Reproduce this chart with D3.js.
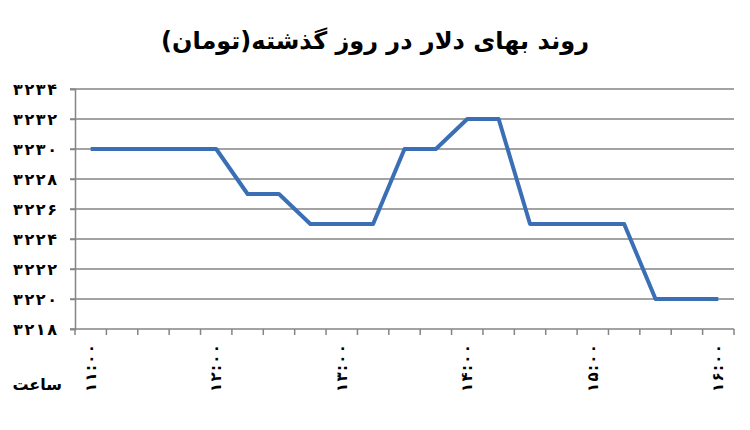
<html>
<head>
<meta charset="utf-8">
<script src="https://d3js.org/d3.v7.min.js"></script>
<style>
  body { margin: 0; background: #fff; }
  .grid line { stroke: #858585; stroke-width: 1.5px; }
  .fa { font-family: "DejaVu Sans", sans-serif; fill: #000; }
</style>
</head>
<body>
<div id="chart"></div>
<script>
// time slots (every 15 minutes) and dollar price
var times = ["11:00","11:15","11:30","11:45","12:00","12:15","12:30","12:45","13:00","13:15","13:30",
             "13:45","14:00","14:15","14:30","14:45","15:00","15:15","15:30","15:45","16:00"];
var prices = [3230,3230,3230,3230,3230,3227,3227,3225,3225,3225,3230,
              3230,3232,3232,3225,3225,3225,3225,3220,3220,3220];
var yTicks = [3218,3220,3222,3224,3226,3228,3230,3232,3234];
var shownTimes = ["11:00","12:00","13:00","14:00","15:00","16:00"];
var title = "روند بهای دلار در روز گذشته(تومان)";
var xTitle = "ساعت";

var W = 750, H = 430;
var faDigits = "۰۱۲۳۴۵۶۷۸۹";
function fa(s) { return String(s).replace(/[0-9]/g, function(d){ return faDigits[+d]; }); }

var svg = d3.select("#chart").append("svg").attr("width", W).attr("height", H);

var x = d3.scaleBand().domain(times).range([75, 734]).paddingInner(0).paddingOuter(0);
var y = d3.scaleLinear().domain([3218, 3234]).range([329, 89]);

svg.append("text").attr("class", "fa")
  .attr("x", 375).attr("y", 49)
  .attr("text-anchor", "middle")
  .style("font-size", "24px").style("font-weight", "bold")
  .text(title);

// gridlines
svg.append("g").attr("class", "grid")
  .selectAll("line").data(yTicks.filter(function(d){ return d > 3218; })).enter()
  .append("line")
  .attr("x1", 70).attr("x2", 734)
  .attr("y1", function(d){ return y(d); }).attr("y2", function(d){ return y(d); });

// y axis
var yAxis = svg.append("g").attr("transform", "translate(75,0)")
  .call(d3.axisLeft(y).tickValues(yTicks).tickSize(5).tickFormat(function(d){ return fa(d); }));
yAxis.select(".domain").attr("stroke", "#858585").attr("stroke-width", 1.5);
yAxis.selectAll(".tick line").attr("stroke", "#858585").attr("stroke-width", 1.5);
yAxis.selectAll(".tick text").attr("class", "fa")
  .attr("x", -18).attr("dy", "0.35em")
  .attr("textLength", 44).attr("lengthAdjust", "spacing")
  .style("font-size", "16px").style("font-weight", "bold");

// x axis with ticks at category boundaries
var xg = svg.append("g");
xg.append("line").attr("x1", 70).attr("x2", 734).attr("y1", y(3218)).attr("y2", y(3218))
  .attr("stroke", "#858585").attr("stroke-width", 1.5);
var bounds = times.map(function(t){ return x(t); }).concat([x.range()[1]]);
xg.selectAll(".xt").data(bounds).enter().append("line")
  .attr("x1", function(d){ return d; }).attr("x2", function(d){ return d; })
  .attr("y1", y(3218)).attr("y2", y(3218) + 6)
  .attr("stroke", "#858585").attr("stroke-width", 1.5);

xg.selectAll(".xl").data(shownTimes).enter().append("text")
  .attr("class", "fa")
  .attr("transform", function(d){
    return "translate(" + (x(d) + x.bandwidth() / 2 + 5) + "," + (y(3218) + 15) + ") rotate(-90)";
  })
  .attr("text-anchor", "end")
  .attr("textLength", 48).attr("lengthAdjust", "spacing")
  .style("font-size", "15px").style("font-weight", "bold")
  .text(function(d){ return fa(d); });

svg.append("text").attr("class", "fa")
  .attr("x", 62).attr("y", 390).attr("text-anchor", "end")
  .style("font-size", "16px").style("font-weight", "bold")
  .text(xTitle);

// price line
var line = d3.line()
  .x(function(d, i){ return x(times[i]) + x.bandwidth() / 2; })
  .y(function(d){ return y(d); });
svg.append("path").datum(prices)
  .attr("d", line)
  .attr("fill", "none")
  .attr("stroke", "#3b6fb5")
  .attr("stroke-width", 4)
  .attr("stroke-linejoin", "round");
</script>
</body>
</html>
